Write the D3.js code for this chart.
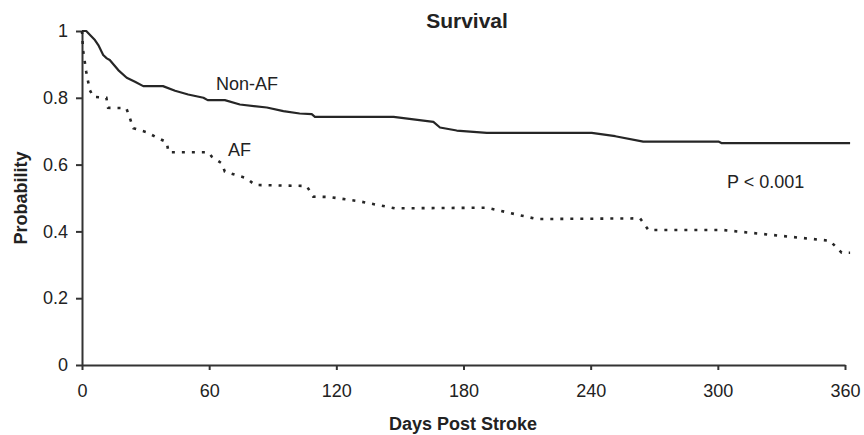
<!DOCTYPE html>
<html>
<head>
<meta charset="utf-8">
<script src="https://cdn.jsdelivr.net/npm/d3@7"></script>
<style>
  html, body { margin: 0; padding: 0; background: #fff; }
  svg { display: block; font-family: "Liberation Sans", Arial, sans-serif; }
</style>
</head>
<body>
<svg id="chart" width="864" height="435"></svg>
<script>
// ---- data ----
const title = "Survival";
const xLabel = "Days Post Stroke";
const yLabel = "Probability";
const xTicks = [0, 60, 120, 180, 240, 300, 360];
const yTicks = [0, 0.2, 0.4, 0.6, 0.8, 1];
const seriesNames = ["Non-AF", "AF"];
const pValueText = "P < 0.001";

const nonAfDays = [0, 2, 3.8, 6.1, 7.7, 10, 11.7, 13.1, 17.1, 21.1, 25, 28.9, 38.2, 43.9, 50.1, 57.3, 59.3, 67.4, 74.5, 87.2, 95, 102.7, 108.4, 109.9, 147, 165.8, 168.9, 176.8, 191, 240.5, 251.6, 264.8, 300.3, 301.9, 362.4];
const nonAfProb = [1, 1, 0.988, 0.973, 0.958, 0.928, 0.918, 0.913, 0.883, 0.860, 0.848, 0.835, 0.835, 0.821, 0.810, 0.800, 0.793, 0.793, 0.780, 0.771, 0.760, 0.753, 0.751, 0.743, 0.743, 0.728, 0.711, 0.702, 0.695, 0.695, 0.685, 0.669, 0.669, 0.664, 0.664];

const afDays = [0, 0.5, 1.3, 2, 2.9, 3.7, 5.3, 11.5, 12.3, 20.9, 22.6, 24.2, 30.5, 36, 40, 40.8, 59.6, 61.2, 65.9, 67.4, 77.7, 81.6, 106, 109.1, 116.8, 130.9, 147.7, 191, 214.5, 263.3, 267.3, 302.6, 352.9, 358.4, 362.4];
const afProb = [1, 0.943, 0.908, 0.878, 0.848, 0.823, 0.803, 0.800, 0.770, 0.769, 0.739, 0.709, 0.697, 0.679, 0.667, 0.637, 0.637, 0.624, 0.604, 0.579, 0.559, 0.539, 0.536, 0.504, 0.503, 0.490, 0.469, 0.471, 0.437, 0.439, 0.404, 0.404, 0.372, 0.336, 0.336];

// ---- layout ----
const svg = d3.select("#chart");
const W = 864, H = 435;
const margin = { left: 82, right: 19, top: 31, bottom: 70 };
const x = d3.scaleLinear().domain([0, 360]).range([margin.left, W - margin.right]);
const y = d3.scaleLinear().domain([0, 1]).range([H - margin.bottom, margin.top]);
const ink = "#222";
const fs = 18;

// axes
const xAxis = svg.append("g")
  .attr("transform", `translate(0,${y(0)})`)
  .call(d3.axisBottom(x).tickValues(xTicks).tickSize(5).tickSizeOuter(0).tickPadding(14).tickFormat(d3.format("d")));
const yAxis = svg.append("g")
  .attr("transform", `translate(${x(0)},0)`)
  .call(d3.axisLeft(y).tickValues(yTicks).tickSize(6).tickSizeOuter(0).tickPadding(8).tickFormat(d => d === 0 ? "0" : d === 1 ? "1" : d3.format(".1f")(d)));

[xAxis, yAxis].forEach(g => {
  g.select(".domain").attr("stroke", "#333").attr("stroke-width", 2);
  g.selectAll(".tick line").attr("stroke", "#333").attr("stroke-width", 2);
  g.selectAll(".tick text").attr("fill", ink).attr("font-size", fs).attr("font-family", "Liberation Sans, Arial, sans-serif");
});

// lines
const nonAf = nonAfDays.map((d, i) => [d, nonAfProb[i]]);
const af = afDays.map((d, i) => [d, afProb[i]]);
const line = d3.line().x(d => x(d[0])).y(d => y(d[1]));

svg.append("path").datum(nonAf)
  .attr("d", line).attr("fill", "none")
  .attr("stroke", "#262626").attr("stroke-width", 2.2).attr("stroke-linejoin", "round");

svg.append("path").datum(af)
  .attr("d", line).attr("fill", "none")
  .attr("stroke", "#262626").attr("stroke-width", 2.6).attr("stroke-dasharray", "3,7");

// text labels
svg.append("text").attr("x", 467).attr("y", 28).attr("text-anchor", "middle")
  .attr("font-size", 21).attr("font-weight", "bold").attr("fill", ink).text(title);

svg.append("text").attr("x", 463).attr("y", 430).attr("text-anchor", "middle")
  .attr("font-size", fs).attr("font-weight", "bold").attr("fill", ink).text(xLabel);

svg.append("text").attr("transform", `translate(27,${(y(0) + y(1)) / 2}) rotate(-90)`)
  .attr("text-anchor", "middle").attr("font-size", fs).attr("font-weight", "bold").attr("fill", ink).text(yLabel);

svg.append("text").attr("x", 216).attr("y", 90).attr("font-size", fs).attr("fill", ink).text(seriesNames[0]);
svg.append("text").attr("x", 228).attr("y", 156).attr("font-size", fs).attr("fill", ink).text(seriesNames[1]);
svg.append("text").attr("x", 727).attr("y", 188).attr("font-size", fs).attr("fill", ink).text(pValueText);
</script>
</body>
</html>
